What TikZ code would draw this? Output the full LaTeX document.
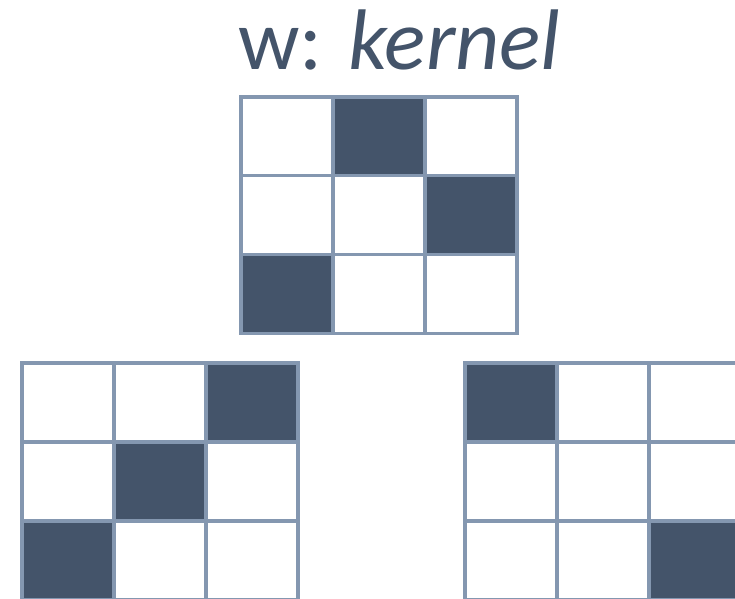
\documentclass[tikz,border=0pt]{standalone}
\usepackage{fontspec}
\setmainfont{Carlito}
\definecolor{dark}{HTML}{44546A}
\definecolor{edge}{HTML}{8497B0}
\begin{document}
\begin{tikzpicture}[x=1pt,y=-1pt,
  cellw/.style={draw=edge,line width=3.2pt,fill=white},
  celld/.style={draw=edge,line width=3.2pt,fill=dark}]
\useasboundingbox (0,0) rectangle (735,598);
\node[anchor=base west,inner sep=0pt,text=dark,font=\fontsize{86}{96}\selectfont] (title) at (238,69) {w: \textit{kernel}};
% top grid
\foreach \r/\c/\s in {0/0/cellw,0/1/celld,0/2/cellw,1/0/cellw,1/1/cellw,1/2/celld,2/0/celld,2/1/cellw,2/2/cellw}{
  \path[\s] (241+\c*92,97+\r*78.7) rectangle ++(92,78.7);
}
% bottom-left grid
\foreach \r/\c/\s in {0/0/cellw,0/1/cellw,0/2/celld,1/0/cellw,1/1/celld,1/2/cellw,2/0/celld,2/1/cellw,2/2/cellw}{
  \path[\s] (22+\c*92,363+\r*79) rectangle ++(92,79);
}
% bottom-right grid
\foreach \r/\c/\s in {0/0/celld,0/1/cellw,0/2/cellw,1/0/cellw,1/1/cellw,1/2/cellw,2/0/cellw,2/1/cellw,2/2/celld}{
  \path[\s] (465+\c*92,363+\r*79) rectangle ++(92,79);
}
\end{tikzpicture}
\end{document}
